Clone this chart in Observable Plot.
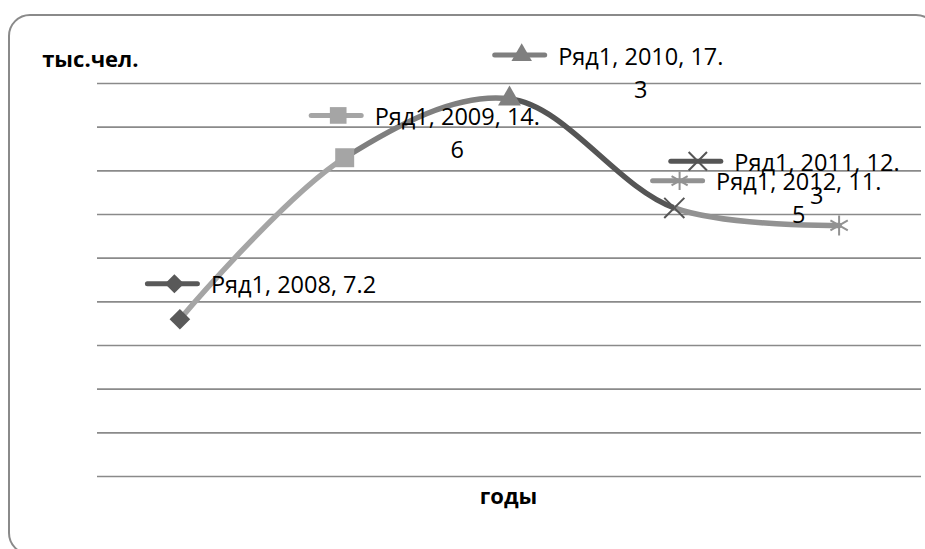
<!DOCTYPE html>
<html>
<head>
<meta charset="utf-8">
<script src="https://cdn.jsdelivr.net/npm/d3@7"></script>
<script src="https://cdn.jsdelivr.net/npm/@observablehq/plot@0.6"></script>
<style>
  html, body { margin: 0; padding: 0; background: #fff; overflow: hidden; }
  #wrap { position: relative; width: 925px; height: 549px; overflow: hidden; }
  #border { position: absolute; left: 8px; top: 14px; width: 930px; height: 541px;
            box-sizing: border-box; border: 2px solid #8a8a8a; border-radius: 22px; }
  #chart { position: absolute; left: 0; top: 0; }
</style>
</head>
<body>
<div id="wrap"><div id="border"></div><div id="chart"></div></div>
<script>
// ---- data ----
const seriesName = "Ряд1";
const years = [2008, 2009, 2010, 2011, 2012];
const values = [7.2, 14.6, 17.3, 12.3, 11.5];
const yTicks = [0, 2, 4, 6, 8, 10, 12, 14, 16, 18];
const yTitle = "тыс.чел.";
const xTitle = "годы";

// ---- styles ----
const pointColors = ["#595959", "#a5a5a5", "#7f7f7f", "#555555", "#929292"];
const pointSymbols = ["diamond2", "square", "triangle", "times", "asterisk"];
const strokeSymbols = new Set(["times", "asterisk"]);
const symbolR = [9.3, 10.7, 8.5, 9.2, 9.5];
const keySymbolR = [8.6, 9.4, 7.6, 8.4, 8.8];
// label placement: [start dx from point, line-1 centre dy from point]
const labelOffsets = [[31, -33.5], [30, -40.3], [48.7, -41.7], [60, -44.7], [-123, -42.7]];
const wrapWidth = 15;
const textFont = "Open Sans";

const points = years.map((year, i) => ({year, value: values[i], i}));

function wrapLabel(s) {
  return s.length <= wrapWidth ? [s, ""] : [s.slice(0, wrapWidth), s.slice(wrapWidth)];
}

const keyLine = { draw(ctx) { ctx.moveTo(-25, 0); ctx.lineTo(25, 0); } };

const marks = [];
marks.push(Plot.ruleY(yTicks, {stroke: "#8a8a8a", strokeWidth: 1.6}));
for (let k = 0; k < years.length - 1; k++) {
  marks.push(Plot.line(points, {x: "year", y: "value", curve: "catmull-rom",
    stroke: pointColors[k + 1], strokeWidth: 5.5, strokeLinecap: "round", strokeLinejoin: "round"}));
}
points.forEach((p, i) => {
  const sym = pointSymbols[i];
  const isStroke = strokeSymbols.has(sym);
  marks.push(Plot.dot([p], {x: "year", y: "value", symbol: sym, r: symbolR[i],
    fill: isStroke ? "none" : pointColors[i], stroke: isStroke ? pointColors[i] : "none",
    strokeWidth: isStroke ? 2 : 0}));
});
points.forEach((p, i) => {
  const [sdx, sdy] = labelOffsets[i];
  const [l1, l2] = wrapLabel(`${seriesName}, ${p.year}, ${p.value}`);
  const sym = pointSymbols[i];
  const isStroke = strokeSymbols.has(sym);
  // legend key line
  marks.push(Plot.dot([p], {x: "year", y: "value", symbol: keyLine, r: 5,
    fill: "none", stroke: pointColors[i], strokeWidth: 5, strokeLinecap: "round",
    dx: sdx - 38.5, dy: sdy - 2}));
  marks.push(Plot.dot([p], {x: "year", y: "value", symbol: sym, r: keySymbolR[i],
    fill: isStroke ? "none" : pointColors[i], stroke: isStroke ? pointColors[i] : "none",
    strokeWidth: isStroke ? 2 : 0, dx: sdx - 36.5, dy: sdy - 2}));
  marks.push(Plot.text([p], {x: "year", y: "value", text: () => l1, textAnchor: "start",
    lineAnchor: "middle", dx: sdx, dy: sdy, fontSize: 23.5, fill: "#000", fontFamily: textFont}));
  if (l2) {
    marks.push(Plot.text([p], {x: "year", y: "value", text: () => l2, textAnchor: "middle",
      lineAnchor: "middle", dx: sdx + 82.5, dy: sdy + 33, fontSize: 23.5, fill: "#000", fontFamily: textFont}));
  }
});
marks.push(Plot.text([yTitle], {frameAnchor: "top-left", textAnchor: "start", lineAnchor: "middle",
  dx: -55.3, dy: -23.3, fontSize: 22, fontWeight: "bold", fill: "#000", fontFamily: textFont}));
marks.push(Plot.text([xTitle], {frameAnchor: "bottom", textAnchor: "middle", lineAnchor: "middle",
  dx: -1, dy: 20, fontSize: 22, fontWeight: "bold", fill: "#000", fontFamily: textFont}));

const chart = Plot.plot({
  width: 925, height: 549,
  marginLeft: 97, marginRight: 4, marginTop: 83, marginBottom: 73,
  x: {domain: [years[0] - 0.5, years[years.length - 1] + 0.5], axis: null},
  y: {domain: [yTicks[0], yTicks[yTicks.length - 1]], axis: null},
  style: {background: "transparent", fontFamily: textFont},
  marks
});

// colour each curve segment by clipping the smoothed line between consecutive points
const xs = chart.scale("x");
const ns = "http://www.w3.org/2000/svg";
const defs = document.createElementNS(ns, "defs");
chart.insertBefore(defs, chart.firstChild);
const lineGroups = chart.querySelectorAll('g[aria-label="line"]');
lineGroups.forEach((g, k) => {
  const left = k === 0 ? 0 : xs.apply(years[k]);
  const right = k === years.length - 2 ? 925 : xs.apply(years[k + 1]);
  const cp = document.createElementNS(ns, "clipPath");
  cp.setAttribute("id", "seg" + k);
  const r = document.createElementNS(ns, "rect");
  r.setAttribute("x", left); r.setAttribute("y", 0);
  r.setAttribute("width", right - left); r.setAttribute("height", 549);
  cp.appendChild(r); defs.appendChild(cp);
  g.setAttribute("clip-path", `url(#seg${k})`);
});

document.getElementById("chart").appendChild(chart);
</script>
</body>
</html>
